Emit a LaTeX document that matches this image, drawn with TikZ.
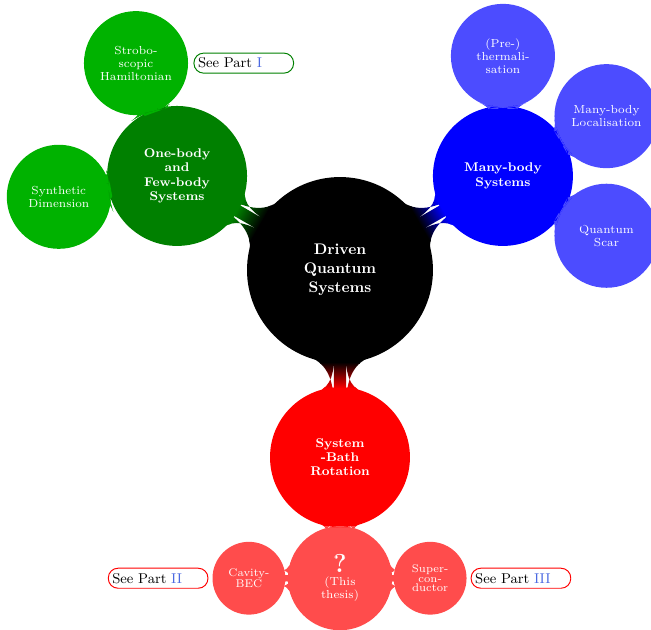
\documentclass[tikz,border=0pt]{standalone}
\usepackage{fontspec}
\usepackage{tikz}
\usepackage{xcolor}
\usetikzlibrary{mindmap,positioning,calc}

\definecolor{partblue}{RGB}{75,105,225}

\begin{document}
\begin{tikzpicture}[
  hub/.style={concept, concept color=black, text=white, inner sep=0pt, minimum size=4cm, text width=2.8cm, align=center, font=\fontsize{9.5}{11.75}\selectfont\bfseries},
  branch/.style={concept, text=white, inner sep=0pt, minimum size=3cm, text width=2.2cm, align=center, font=\fontsize{7.8}{8.9}\selectfont\bfseries},
  leaf/.style={concept, text=white, inner sep=0pt, minimum size=2.22cm, text width=1.7cm, align=center, font=\fontsize{7.2}{8}\selectfont},
  twig/.style={concept, text=white, inner sep=0pt, minimum size=1.54cm, text width=1.1cm, align=center, font=\fontsize{6.9}{6.1}\selectfont},
  seepart/.style={rectangle, rounded corners=0.21cm, draw, line width=0.6pt, fill=white, text=black, minimum height=0.435cm, inner xsep=2.5pt, inner ysep=1pt, text width=1.99cm, align=left, font=\fontsize{8.8}{10}\selectfont}]
  \useasboundingbox (-7.391,-7.804) rectangle (6.761,5.870);

  \begin{scope}[mindmap]
  % centre and first ring
  \node[hub] (driven) at (0,0) {Driven\\Quantum\\Systems};
  \node[branch, concept color=green!50!black] (onebody) at (150:4.09) {One-body\\and\\Few-body\\Systems};
  \node[branch, concept color=blue] (manybody) at (30:4.09) {Many-body\\Systems};
  \node[branch, concept color=red] (sysbath) at (270:4.07) {System\\-Bath\\Rotation};

  % second ring
  \node[leaf, concept color=green!70!black] (strobo) at ($(onebody)+(110:2.61)$) {Strobo-\\scopic\\Hamiltonian};
  \node[leaf, concept color=green!70!black] (synthetic) at ($(onebody)+(190:2.61)$) {Synthetic\\Dimension};
  \node[leaf, concept color=blue!70] (prethermal) at ($(manybody)+(90:2.61)$) {(Pre-)\\thermali-\\sation};
  \node[leaf, concept color=blue!70] (mbl) at ($(manybody)+(30:2.6)$) {Many-body\\Localisation};
  \node[leaf, concept color=blue!70] (scar) at ($(manybody)+(-30:2.6)$) {Quantum\\Scar};
  \node[leaf, concept color=red!70] (thesis) at ($(sysbath)+(270:2.63)$) {{\fontsize{16}{16}\selectfont\bfseries ?}\\(This\\thesis)};

  % third ring
  \node[twig, concept color=red!70] (cavity) at ($(thesis)+(180:1.98)$) {Cavity-\\BEC};
  \node[twig, concept color=red!70] (supercond) at ($(thesis)+(0:1.96)$) {Super-\\con-\\ductor};

  % connection bars
  \path (driven) to[circle connection bar switch color=from (black) to (green!50!black)] (onebody);
  \path (driven) to[circle connection bar switch color=from (black) to (blue)] (manybody);
  \path (driven) to[circle connection bar switch color=from (black) to (red)] (sysbath);
  \path (onebody) to[circle connection bar switch color=from (green!50!black) to (green!70!black)] (strobo);
  \path (onebody) to[circle connection bar switch color=from (green!50!black) to (green!70!black)] (synthetic);
  \path (manybody) to[circle connection bar switch color=from (blue) to (blue!70)] (prethermal);
  \path (manybody) to[circle connection bar switch color=from (blue) to (blue!70)] (mbl);
  \path (manybody) to[circle connection bar switch color=from (blue) to (blue!70)] (scar);
  \path (sysbath) to[circle connection bar switch color=from (red) to (red!70)] (thesis);
  \path (thesis) to[circle connection bar switch color=from (red!70) to (red!70)] (cavity);
  \path (thesis) to[circle connection bar switch color=from (red!70) to (red!70)] (supercond);
  \end{scope}

  % pointers to the parts
  \node[seepart, draw=green!50!black, right=0.14cm of strobo] (partone) {See Part \textcolor{partblue}{I}};
  \node[seepart, draw=red, left=0.11cm of cavity] (parttwo) {See Part \textcolor{partblue}{II}};
  \node[seepart, draw=red, right=0.11cm of supercond] (partthree) {See Part \textcolor{partblue}{III}};
\end{tikzpicture}
\end{document}
